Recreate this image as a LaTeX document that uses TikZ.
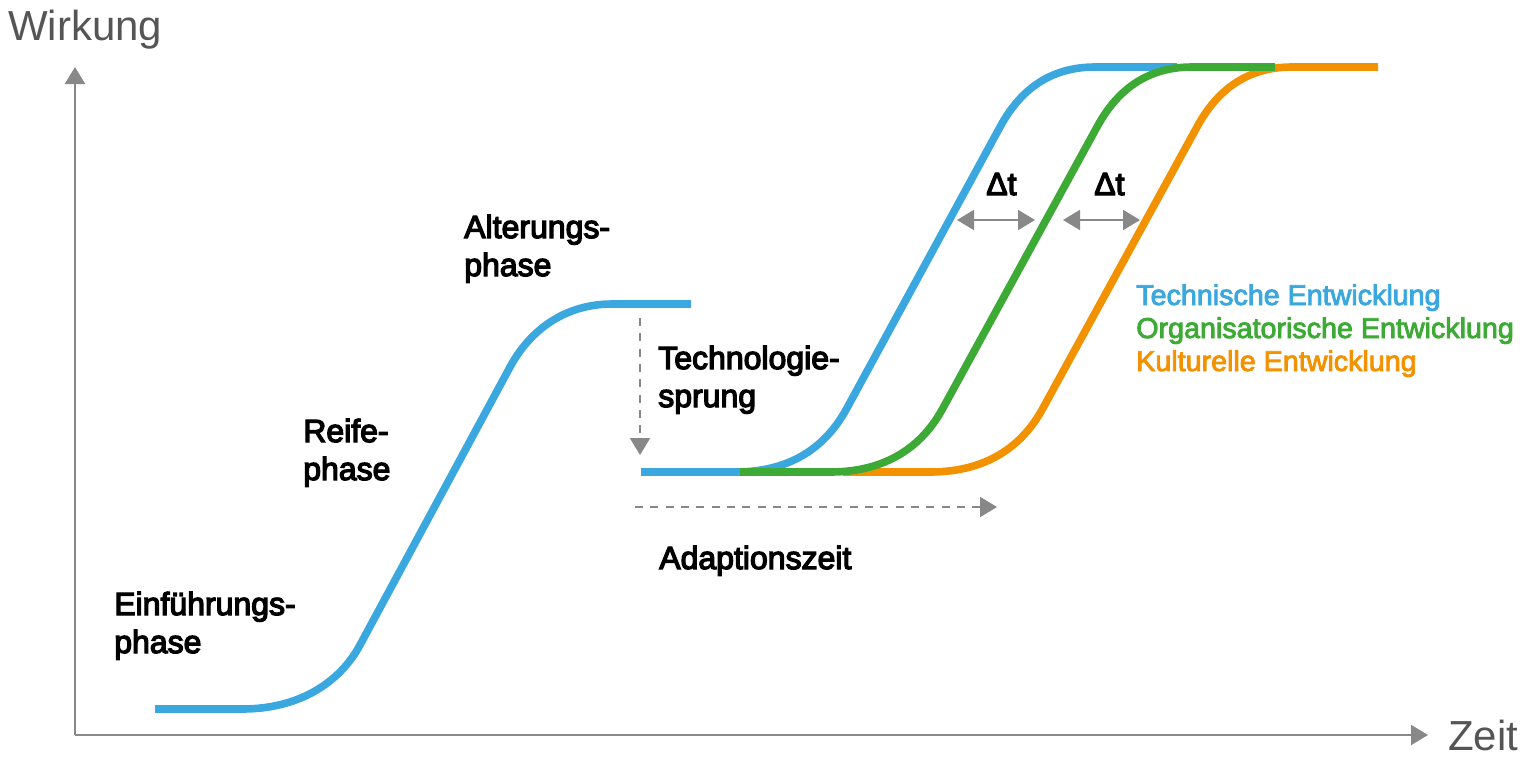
\documentclass[tikz,border=0pt]{standalone}
\usepackage{fontspec}
\usetikzlibrary{arrows.meta}
\newfontfamily\regfont{Liberation Sans}
\newfontfamily\medfont{Liberation Sans}[UprightFeatures={FakeBold=4}]
\newfontfamily\legfont{Liberation Sans}[UprightFeatures={FakeBold=3}]
\definecolor{cblue}{HTML}{3AA8DF}
\definecolor{cgreen}{HTML}{3DAA35}
\definecolor{corange}{HTML}{F39200}
\definecolor{cgray}{HTML}{888888}
\definecolor{caxtext}{HTML}{555555}
\tikzset{
  curve/.style={line width=5.7pt},
  axis/.style={draw=cgray, line width=1.6pt, -{Triangle[length=12.75pt,width=15pt]}},
  dasharrow/.style={draw=cgray, line width=1.5pt, dash pattern=on 6pt off 5.5pt, -{Triangle[length=12.75pt,width=15pt]}},
  dtarrow/.style={draw=cgray, line width=1.5pt, {Triangle[length=12.75pt,width=15pt]}-{Triangle[length=12.75pt,width=15pt]}},
  lab/.style={font=\medfont\fontsize{24pt}{28.5pt}\selectfont, anchor=base west, inner sep=0pt, align=left},
  axlab/.style={font=\regfont\fontsize{31.5pt}{36pt}\selectfont, text=caxtext, anchor=base west, inner sep=0pt},
  leg/.style={font=\legfont\fontsize{21.5pt}{24.75pt}\selectfont, anchor=base west, inner sep=0pt},
}
\begin{document}
\begin{tikzpicture}[x=0.75pt,y=-0.75pt]
\useasboundingbox (0,0) rectangle (1527,765);
% axes
\coordinate (O) at (75,735);
\coordinate (ytip) at (75,67);
\coordinate (xtip) at (1428,735);
\draw[axis] (O) -- (ytip);
\draw[axis] (O) -- (xtip);
\node[axlab] (wirkung) at (8,40) {Wirkung};
\node[axlab] (zeit) at (1448,750) {Zeit};
% first blue curve
\draw[curve, cblue] (155,709) -- (242,709) .. controls (300,709) and (340,682) .. (360,645) -- (510,367) .. controls (530,330) and (565,304) .. (612,304) -- (691,304);
% second curves
\draw[curve, corange] (843,472) -- (930,472) .. controls (988,472) and (1023,445) .. (1043,408) -- (1197,127) .. controls (1217,90) and (1247,67) .. (1292,67) -- (1378,67);
\draw[curve, cblue] (641,472) -- (735,472) .. controls (793,472) and (827,445) .. (847,408) -- (1000,127) .. controls (1020,90) and (1050,67) .. (1095,67) -- (1177,67);
\draw[curve, cgreen] (740,472) -- (830,472) .. controls (888,472) and (923,445) .. (943,408) -- (1097,127) .. controls (1117,90) and (1147,67) .. (1192,67) -- (1275,67);
% dashed arrows
\coordinate (js) at (640,318);
\coordinate (je) at (640,455);
\draw[dasharrow] (js) -- (je);
\coordinate (as) at (635,507);
\coordinate (ae) at (997,507);
\draw[dasharrow] (as) -- (ae);
% delta t arrows
\coordinate (d1s) at (957,220);
\coordinate (d1e) at (1035,220);
\coordinate (d2s) at (1063,220);
\coordinate (d2e) at (1140,220);
\draw[dtarrow] (d1s) -- (d1e);
\draw[dtarrow] (d2s) -- (d2e);
\node[lab] (dt1) at (986,195) {Δt};
\node[lab] (dt2) at (1094,195) {Δt};
% labels (anchor is the baseline of the last line)
\node[lab] (einf) at (114,653) {Einführungs-\\phase};
\node[lab] (reife) at (303,480) {Reife-\\phase};
\node[lab] (alter) at (464,276) {Alterungs-\\phase};
\node[lab] (techno) at (658,407) {Technologie-\\sprung};
\node[lab] (adapt) at (659,569) {Adaptionszeit};
% legend
\node[leg, text=cblue] (l1) at (1136,305) {Technische Entwicklung};
\node[leg, text=cgreen] (l2) at (1136,338) {Organisatorische Entwicklung};
\node[leg, text=corange] (l3) at (1136,371) {Kulturelle Entwicklung};
\end{tikzpicture}
\end{document}
